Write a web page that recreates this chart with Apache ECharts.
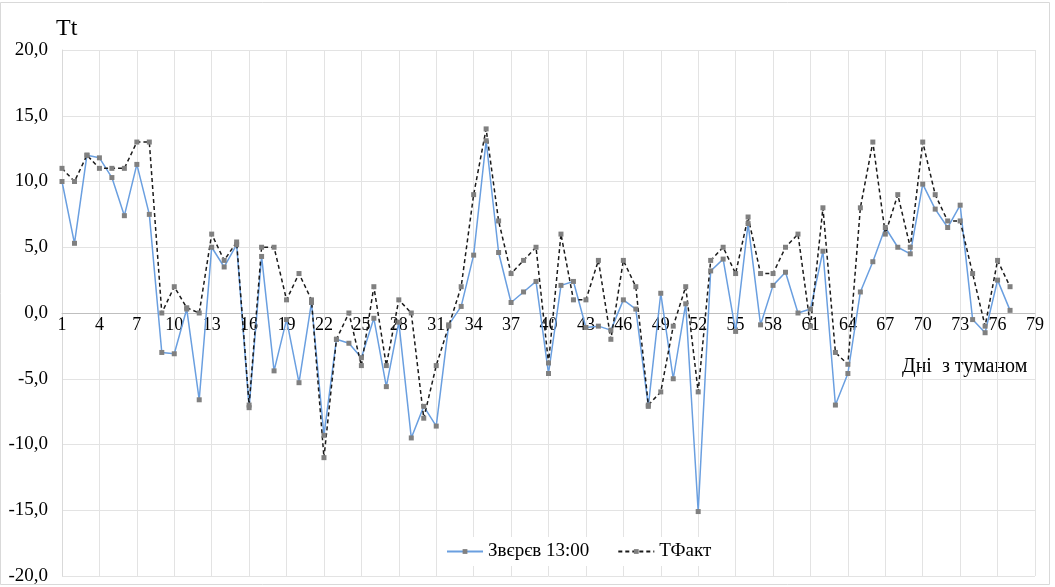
<!DOCTYPE html>
<html>
<head>
<meta charset="utf-8">
<script src="https://cdn.jsdelivr.net/npm/echarts@6/dist/echarts.min.js"></script>
<style>
  html, body { margin: 0; padding: 0; background: #fff; }
  #chart { width: 1055px; height: 587px; }
</style>
</head>
<body>
<div id="chart"></div>
<script>
// x categories: days 1..79
var days = [];
for (var d = 1; d <= 79; d++) days.push(String(d));

// Звєрєв 13:00 (forecast)
var zverev = [10.0, 5.3, 12.0, 11.8, 10.3, 7.4, 11.3, 7.5, -3.0, -3.1,
  0.3, -6.6, 5.0, 3.5, 5.2, -7.2, 4.3, -4.4, -0.5, -5.3,
  0.8, -9.3, -2.0, -2.3, -3.4, -0.4, -5.6, -0.7, -9.5, -7.1,
  -8.6, -0.9, 0.5, 4.4, 13.1, 4.6, 0.8, 1.6, 2.4, -4.6,
  2.1, 2.4, -1.1, -1.0, -1.3, 1.0, 0.3, -7.1, 1.5, -5.0,
  0.7, -15.1, 3.2, 4.1, -1.4, 6.8, -0.9, 2.1, 3.1, 0.0,
  0.3, 4.7, -7.0, -4.6, 1.6, 3.9, 6.5, 5.0, 4.5, 9.8,
  7.9, 6.5, 8.2, -0.5, -1.5, 2.5, 0.2];

// ТФакт (actual)
var tfakt = [11, 10, 12, 11, 11, 11, 13, 13, 0, 2,
  0.4, 0, 6, 4, 5.4, -7, 5, 5, 1, 3,
  1, -11, -2, 0, -4, 2, -4, 1, 0, -8,
  -4, -1, 2, 9, 14, 7, 3, 4, 5, -3.8,
  6, 1, 1, 4, -2, 4, 2, -7, -6, -1,
  2, -6, 4, 5, 3, 7.3, 3, 3, 5, 6,
  -1, 8, -3, -3.9, 8, 13, 6, 9, 5, 13,
  9, 7, 7, 3, -1, 4, 2];

var serif = '"Times New Roman", "Liberation Serif", "DejaVu Serif", serif';

var chart = echarts.init(document.getElementById('chart'));
var option = {
  animation: false,
  backgroundColor: '#fff',
  grid: { left: 62, right: 20, top: 50, bottom: 11 },
  legend: {
    bottom: 21,
    left: 441,
    backgroundColor: '#fff',
    itemWidth: 36,
    itemHeight: 6,
    itemGap: 28,
    textStyle: { fontFamily: serif, fontSize: 19, color: '#000' },
    data: ['Звєрєв 13:00', 'ТФакт']
  },
  graphic: [
    { type: 'rect', shape: { x: 0.5, y: 2.5, width: 1049, height: 582 },
      style: { fill: 'none', stroke: '#d9d9d9', lineWidth: 1 }, silent: true },
    { type: 'text', left: 56, top: 17,
      style: { text: 'Tt', fontFamily: serif, fontSize: 24, fill: '#000' } },
    { type: 'text', left: 902, top: 357,
      style: { text: 'Дні  з туманом', fontFamily: serif, fontSize: 20, fill: '#000' } }
  ],
  xAxis: {
    type: 'category',
    data: days,
    boundaryGap: false,
    position: 'bottom',
    offset: -263,
    axisLine: { onZero: false, lineStyle: { color: '#bfbfbf', width: 1 } },
    axisTick: { show: false },
    axisLabel: { interval: 2, fontFamily: serif, fontSize: 18, color: '#000', margin: 3 },
    splitLine: { show: true, interval: 2, lineStyle: { color: '#e3e3e3', width: 1 } }
  },
  yAxis: {
    type: 'value',
    min: -20,
    max: 20,
    interval: 5,
    axisLine: { show: true, lineStyle: { color: '#d9d9d9' } },
    axisTick: { show: false },
    axisLabel: {
      fontFamily: serif, fontSize: 19, color: '#000', margin: 14,
      formatter: function (v) { return v.toFixed(1).replace('.', ','); }
    },
    splitLine: { lineStyle: { color: '#e3e3e3', width: 1 } }
  },
  series: [
    {
      name: 'Звєрєв 13:00',
      type: 'line',
      data: zverev,
      symbol: 'rect',
      symbolSize: 5,
      itemStyle: { color: '#808080' },
      lineStyle: { color: '#6a9fe0', width: 1.5 }
    },
    {
      name: 'ТФакт',
      type: 'line',
      data: tfakt,
      symbol: 'rect',
      symbolSize: 5,
      itemStyle: { color: '#808080' },
      lineStyle: { color: '#1a1a1a', width: 1.5, type: [4, 3] }
    }
  ]
};
chart.setOption(option);
</script>
</body>
</html>
